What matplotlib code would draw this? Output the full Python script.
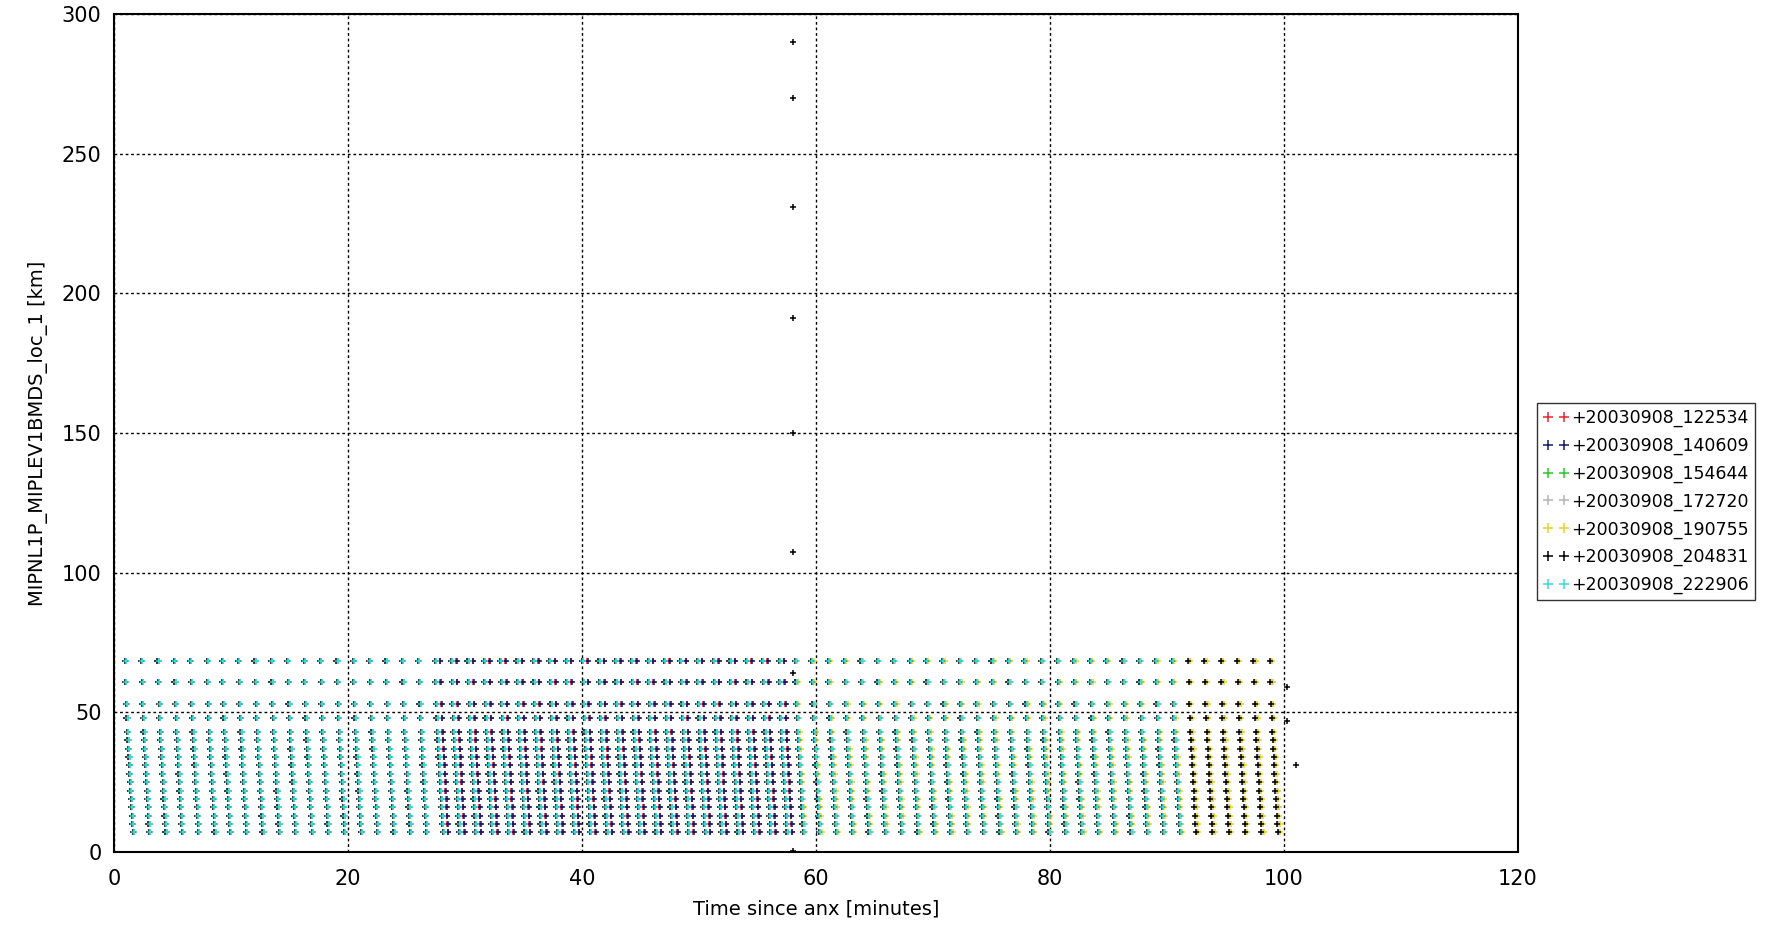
import numpy as np
import matplotlib
matplotlib.use("Agg")
import matplotlib.pyplot as plt

# Орбиты (легенда), цвета и интервалы покрытия
orbit_names = ['+20030908_122534', '+20030908_140609', '+20030908_154644',
               '+20030908_172720', '+20030908_190755', '+20030908_204831',
               '+20030908_222906']
orbit_colors = ['#e8262a', '#16166e', '#28c828', '#b4b4b4', '#e8d22a', '#000000', '#3cd8d8']
orbit_t_from = [27.0, 27.0, 0.0, 0.0, 57.5, 0.0, 0.0]
orbit_t_to = [57.5, 57.5, 57.5, 100.0, 100.0, 100.0, 91.0]
orbit_phase = [0.45, 0.50, 0.10, 0.10, 0.20, 0.00, 0.10]

# Времена начала сканов [мин]
scan_times = [0.9, 2.3, 3.7, 5.1, 6.5, 7.9, 9.2, 10.6, 12.0, 13.4, 14.8, 16.2,
              17.6, 19.0, 20.4, 21.8, 23.2, 24.6, 26.0, 27.4, 28.8, 30.2, 31.6,
              33.0, 34.4, 35.8, 37.2, 38.6, 40.0, 41.4, 42.8, 44.2, 45.6, 47.0,
              48.4, 49.8, 51.2, 52.6, 54.0, 55.4, 56.8, 58.2, 59.6, 61.0, 62.4,
              63.8, 65.2, 66.6, 68.0, 69.4, 70.8, 72.2, 73.6, 75.0, 76.4, 77.8,
              79.2, 80.6, 82.0, 83.4, 84.8, 86.2, 87.6, 89.0, 90.4, 91.8, 93.2,
              94.6, 96.0, 97.4, 98.8]

# Высоты касания [км] и сдвиг по времени внутри скана [мин]
tangent_alt = [68.5, 61.0, 53.0, 48.0, 43.0, 40.0, 37.0, 34.0, 31.0, 28.0,
               25.0, 22.0, 19.0, 16.0, 13.0, 10.0, 7.0]
sweep_dt = [0.00, 0.05, 0.10, 0.15, 0.20, 0.24, 0.28, 0.32, 0.36, 0.40,
            0.44, 0.48, 0.52, 0.56, 0.60, 0.64, 0.68]

# Отдельные точки (выбросы) орбиты 204831
outlier_t = [58.0, 58.0, 58.0, 58.0, 58.0, 58.0, 58.0, 58.0, 100.3, 100.3, 101.0]
outlier_alt = [290.0, 270.0, 231.0, 191.0, 150.0, 107.5, 64.0, 0.5, 59.0, 47.0, 31.0]

fig = plt.figure(figsize=(17.69, 9.32), dpi=100)
ax = fig.add_axes([0.0645, 0.0858, 0.7935, 0.8992])

for name, col, t0, t1, ph in zip(orbit_names, orbit_colors, orbit_t_from,
                                 orbit_t_to, orbit_phase):
    xs, ys = [], []
    for ts in scan_times:
        t = ts + ph
        if t < t0 or t > t1:
            continue
        for alt, dt in zip(tangent_alt, sweep_dt):
            xs.append(t + dt)
            ys.append(alt)
    if name.endswith('204831'):
        xs += outlier_t
        ys += outlier_alt
    ax.plot(xs, ys, linestyle='none', marker='+', markersize=3.8,
            markeredgewidth=1.1, color=col, label=name)

ax.set_xlim(0, 120)
ax.set_ylim(0, 300)
ax.set_xticks([0, 20, 40, 60, 80, 100, 120])
ax.set_yticks([0, 50, 100, 150, 200, 250, 300])
ax.grid(True, color='black', linestyle=(0, (2, 2)), linewidth=1.0)
ax.tick_params(labelsize=15, length=0)
ax.tick_params(axis='x', pad=12)
ax.tick_params(axis='y', pad=9)
for s in ax.spines.values():
    s.set_linewidth(1.5)

ax.set_xlabel('Time since anx [minutes]', fontsize=14, labelpad=8)
ax.set_ylabel('MIPNL1P_MIPLEV1BMDS_loc_1 [km]', fontsize=14, labelpad=10)

leg = ax.legend(loc='upper left', bbox_to_anchor=(0.8688, 0.5676),
                bbox_transform=fig.transFigure, numpoints=2, markerscale=2.0,
                handlelength=1.5, handletextpad=0.1, borderpad=0.35,
                borderaxespad=0, labelspacing=0.55, fontsize=12.5,
                fancybox=False)
leg.get_frame().set_edgecolor('black')
leg.get_frame().set_linewidth(1.0)

plt.savefig('out.png', dpi=100)
